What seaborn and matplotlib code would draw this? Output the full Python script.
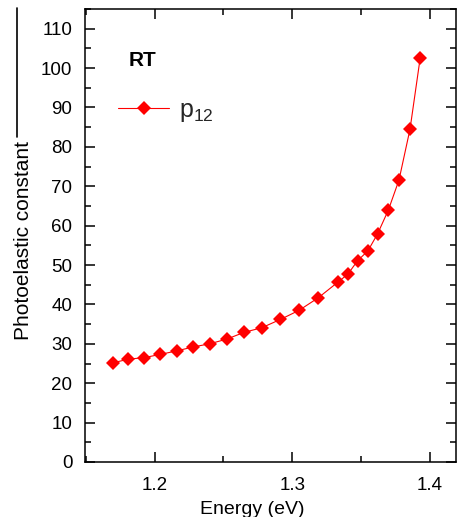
import matplotlib
matplotlib.use("Agg")
import matplotlib.pyplot as plt
import seaborn as sns
import pandas as pd
from matplotlib.lines import Line2D
from matplotlib.ticker import MultipleLocator

energy = [1.170, 1.181, 1.1925, 1.204, 1.216, 1.228, 1.240, 1.2525, 1.265, 1.278,
          1.2915, 1.305, 1.319, 1.333, 1.3405, 1.3475, 1.355, 1.362, 1.3698, 1.3776,
          1.3856, 1.393]
p12 = [25.2, 26.1, 26.5, 27.3, 28.2, 29.2, 30.0, 31.2, 32.9, 34.1,
       36.2, 38.5, 41.7, 45.6, 47.7, 51.1, 53.6, 57.9, 63.9, 71.6,
       84.5, 102.6]
series_label = r"p$_{\mathrm{12}}$"
x_ticks = [1.2, 1.3, 1.4]
y_ticks = list(range(0, 111, 10))

sns.set_theme(style="ticks")
plt.rcParams["font.family"] = ["Liberation Sans", "DejaVu Sans"]
plt.rcParams["mathtext.fontset"] = "custom"
plt.rcParams["mathtext.rm"] = "Liberation Sans"
plt.rcParams["mathtext.it"] = "Liberation Sans"

df = pd.DataFrame({"Energy": energy, "p12": p12})

fig = plt.figure(figsize=(4.62, 5.17), dpi=100)
L, R, T, B = 85, 456, 9, 462
ax = fig.add_axes([L / 462, (517 - B) / 517, (R - L) / 462, (B - T) / 517])

sns.lineplot(data=df, x="Energy", y="p12", ax=ax, color="#ff0000", linewidth=0.8,
             marker="D", markersize=7, markeredgewidth=0, markerfacecolor="#ff0000",
             label=series_label, sort=False)

ax.set_xlim(1.1495, 1.419)
ax.set_ylim(0, 115)
ax.set_xticks(x_ticks)
ax.set_xticklabels([f"{t:.1f}" for t in x_ticks])
ax.set_yticks(y_ticks)
ax.set_yticklabels([str(t) for t in y_ticks])
ax.xaxis.set_minor_locator(MultipleLocator(0.05))
ax.yaxis.set_minor_locator(MultipleLocator(5))

for side in ["top", "right", "left", "bottom"]:
    ax.spines[side].set_visible(True)
    ax.spines[side].set_linewidth(1.1)
    ax.spines[side].set_color("black")

ax.tick_params(which="both", direction="in", top=True, right=True, color="black",
               width=1.1, labelsize=13.5, labelcolor="black")
ax.tick_params(which="major", length=7.5)
ax.tick_params(which="minor", length=4)
ax.tick_params(axis="y", which="major", pad=9)
ax.tick_params(axis="x", which="major", pad=10.5)

ax.set_xlabel("Energy (eV)", fontsize=14, color="black")
ax.xaxis.set_label_coords((252 - L) / (R - L), (B - 501) / (B - T))
ax.set_ylabel("Photoelastic constant", fontsize=15, color="black")
ax.yaxis.set_label_coords((33 - L) / (R - L), 0.49)

ax.text(0.117, 0.874, "RT", transform=ax.transAxes, fontsize=15,
        fontweight="bold", color="black", ha="left", va="baseline")

ax.legend(loc="center left", bbox_to_anchor=((118 - L) / (R - L), 0.775), frameon=False,
          fontsize=18, handlelength=2.05, handletextpad=0.4, borderpad=0,
          borderaxespad=0)

fig.add_artist(Line2D([17 / 462, 17 / 462], [1 - 8 / 517, 1 - 137 / 517],
                      transform=fig.transFigure, color="black", linewidth=1.2))

fig.savefig("out.png", dpi=100)
